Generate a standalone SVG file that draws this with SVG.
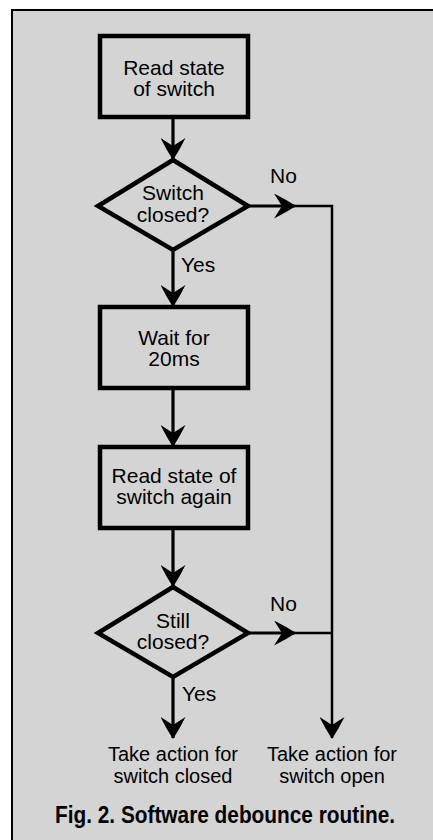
<svg xmlns="http://www.w3.org/2000/svg" width="433" height="840" viewBox="0 0 433 840">
<defs>
<style>
.box{fill:none;stroke:#000;stroke-width:4.5}
.t{font-family:"Liberation Sans",Arial,sans-serif;font-size:21px;fill:#000;text-anchor:middle}
.b{font-family:"Liberation Sans",Arial,sans-serif;font-size:20px;fill:#000;text-anchor:middle}
.lbl{font-family:"Liberation Sans",Arial,sans-serif;font-size:21px;fill:#000}
.c{fill:none;stroke:#000;stroke-width:3.2}
.thin{fill:none;stroke:#000;stroke-width:2.5}
.cap{font-family:"Liberation Sans Narrow","Liberation Sans",Arial,sans-serif;font-size:23px;font-weight:bold;fill:#000}
</style>
<marker id="ah" markerUnits="userSpaceOnUse" viewBox="0 0 22 25" refX="21" refY="12.5" markerWidth="22" markerHeight="25" orient="auto">
<path d="M0,0 Q12,6 22,12.5 Q12,19 0,25 L8,12.5 Z" fill="#000"/>
</marker>
</defs>
<rect x="0" y="0" width="433" height="840" fill="#fff"/>
<rect x="12" y="10" width="421" height="830" fill="#d4d4d4"/>
<path d="M12,840 V10 H433" fill="none" stroke="#000" stroke-width="2"/>

<g id="connectors">
<line class="c" x1="173" y1="117" x2="173" y2="159" marker-end="url(#ah)"/>
<line class="c" x1="173" y1="250" x2="173" y2="306" marker-end="url(#ah)"/>
<line class="c" x1="173" y1="388" x2="173" y2="446" marker-end="url(#ah)"/>
<line class="c" x1="173" y1="528" x2="173" y2="586" marker-end="url(#ah)"/>
<line class="c" x1="173" y1="677" x2="173" y2="738" marker-end="url(#ah)"/>
<line class="c" x1="248" y1="206" x2="295" y2="206" marker-end="url(#ah)"/>
<line class="c" x1="248" y1="633" x2="295" y2="633" marker-end="url(#ah)"/>
<path class="thin" d="M295,206 H332 V738" marker-end="url(#ah)"/>
<line class="thin" x1="295" y1="633" x2="332" y2="633"/>
</g>

<g id="read1">
<rect class="box" x="100" y="36" width="148" height="81"/>
<text class="t" x="174" y="75">Read state</text>
<text class="t" x="174" y="96">of switch</text>
</g>
<g id="decision1">
<polygon class="box" points="173,160 248,206 173,250 98,206"/>
<text class="t" x="173" y="200">Switch</text>
<text class="t" x="173" y="222">closed?</text>
</g>
<g id="wait">
<rect class="box" x="100" y="307" width="148" height="81"/>
<text class="t" x="174" y="345">Wait for</text>
<text class="t" x="174" y="366">20ms</text>
</g>
<g id="read2">
<rect class="box" x="100" y="447" width="148" height="81"/>
<text class="t" x="174" y="483">Read state of</text>
<text class="t" x="174" y="504">switch again</text>
</g>
<g id="decision2">
<polygon class="box" points="173,587 248,633 173,677 98,633"/>
<text class="t" x="173" y="628">Still</text>
<text class="t" x="173" y="649">closed?</text>
</g>
<g id="labels">
<text class="lbl" x="270" y="183">No</text>
<text class="lbl" x="181" y="272">Yes</text>
<text class="lbl" x="270" y="611">No</text>
<text class="lbl" x="182" y="701">Yes</text>
</g>
<g id="closed">
<text class="b" x="173" y="761">Take action for</text>
<text class="b" x="173" y="783">switch closed</text>
</g>
<g id="open">
<text class="b" x="332" y="761">Take action for</text>
<text class="b" x="332" y="783">switch open</text>
</g>
<text class="cap" x="55" y="823" textLength="340" lengthAdjust="spacingAndGlyphs">Fig. 2. Software debounce routine.</text>
</svg>
